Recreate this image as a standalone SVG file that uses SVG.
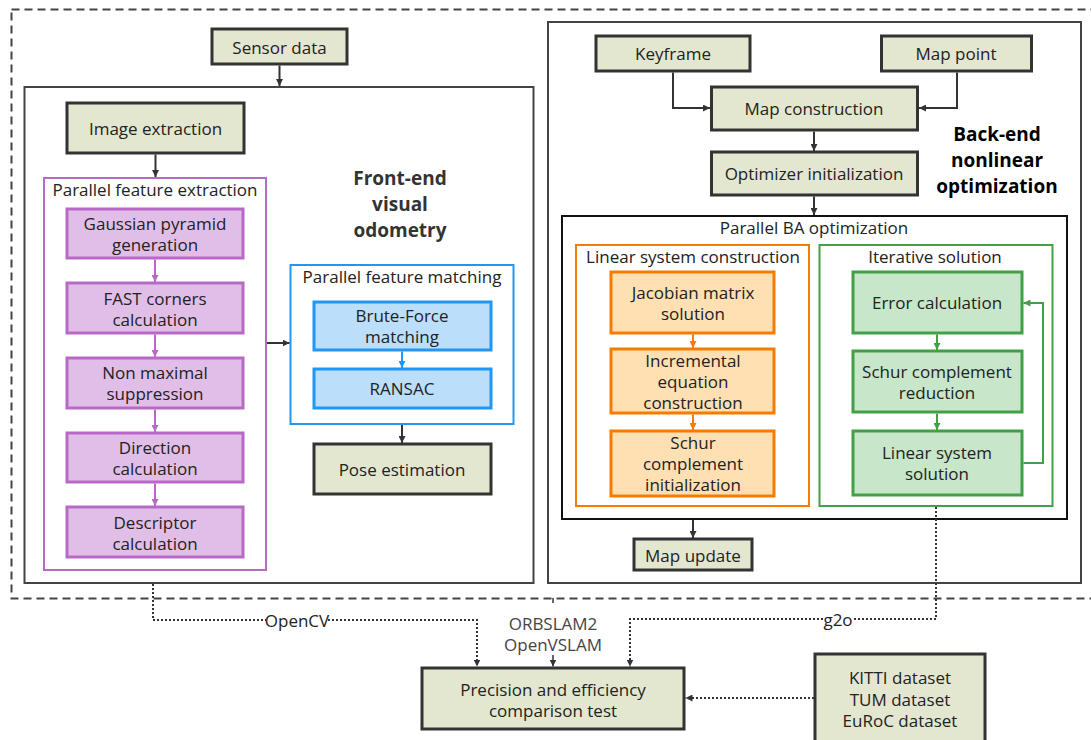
<svg xmlns="http://www.w3.org/2000/svg" width="1091" height="740" viewBox="0 0 1091 740">
<defs>
<style>
text{font-family:"Open Sans","Noto Sans","DejaVu Sans",sans-serif;font-size:17px;fill:#222;text-anchor:middle;dominant-baseline:central}
.bold{font-weight:bold;font-size:19px}
.olive{fill:#e3e7d0;stroke:#333;stroke-width:3}
.purple{fill:#e1bee7;stroke:#ba68c8;stroke-width:3}
.blue{fill:#bbdefb;stroke:#2196f3;stroke-width:3}
.orange{fill:#ffe0b2;stroke:#f57c00;stroke-width:3}
.green{fill:#c8e6c9;stroke:#43a047;stroke-width:3}
.cont{fill:none;stroke-width:2}
.ln{fill:none;stroke:#333;stroke-width:2}
.dot{fill:none;stroke:#333;stroke-width:2;stroke-dasharray:2 2}
</style>
<marker id="ak" viewBox="0 0 10 10" refX="10" refY="5" markerWidth="7" markerHeight="7" orient="auto" markerUnits="userSpaceOnUse"><path d="M0,0L10,5L0,10z" fill="#333"/></marker>
<marker id="ap" viewBox="0 0 10 10" refX="10" refY="5" markerWidth="7" markerHeight="7" orient="auto" markerUnits="userSpaceOnUse"><path d="M0,0L10,5L0,10z" fill="#ba68c8"/></marker>
<marker id="ab" viewBox="0 0 10 10" refX="10" refY="5" markerWidth="7" markerHeight="7" orient="auto" markerUnits="userSpaceOnUse"><path d="M0,0L10,5L0,10z" fill="#2196f3"/></marker>
<marker id="ao" viewBox="0 0 10 10" refX="10" refY="5" markerWidth="7" markerHeight="7" orient="auto" markerUnits="userSpaceOnUse"><path d="M0,0L10,5L0,10z" fill="#f57c00"/></marker>
<marker id="ag" viewBox="0 0 10 10" refX="10" refY="5" markerWidth="7" markerHeight="7" orient="auto" markerUnits="userSpaceOnUse"><path d="M0,0L10,5L0,10z" fill="#43a047"/></marker>
</defs>
<rect width="1091" height="740" fill="#fff"/>

<rect x="11.5" y="9.5" width="1100" height="589" fill="none" stroke="#444" stroke-width="2" stroke-dasharray="8 5"/>

<g id="frontend">
<rect x="24.5" y="87" width="509" height="496" class="cont" stroke="#444"/>
<text class="bold" x="400" y="178" style="fill:#333">Front-end</text>
<text class="bold" x="400" y="204" style="fill:#333">visual</text>
<text class="bold" x="400" y="230" style="fill:#333">odometry</text>
</g>
<g id="backend">
<rect x="548" y="22" width="533" height="561" class="cont" stroke="#444"/>
<text class="bold" x="997" y="134" style="fill:#000">Back-end</text>
<text class="bold" x="997" y="160" style="fill:#000">nonlinear</text>
<text class="bold" x="997" y="186" style="fill:#000">optimization</text>
</g>

<g id="sensor-data"><rect x="212" y="29" width="135" height="35" class="olive"/><text x="279.5" y="47">Sensor data</text></g>
<g id="image-extraction"><rect x="67" y="103" width="177" height="50" class="olive"/><text x="155.5" y="128">Image extraction</text></g>

<g id="parallel-feature-extraction"><rect x="44" y="178" width="222" height="392" class="cont" stroke="#ba68c8"/><text x="155" y="189">Parallel feature extraction</text></g>
<g id="gaussian"><rect x="67" y="209" width="176" height="49" class="purple"/><text x="155" y="223">Gaussian pyramid</text><text x="155" y="244">generation</text></g>
<g id="fast"><rect x="67" y="283" width="176" height="50" class="purple"/><text x="155" y="298">FAST corners</text><text x="155" y="319">calculation</text></g>
<g id="nms"><rect x="67" y="358" width="176" height="50" class="purple"/><text x="155" y="372">Non maximal</text><text x="155" y="393">suppression</text></g>
<g id="direction"><rect x="67" y="433" width="176" height="49" class="purple"/><text x="155" y="447">Direction</text><text x="155" y="468">calculation</text></g>
<g id="descriptor"><rect x="67" y="507" width="176" height="50" class="purple"/><text x="155" y="522">Descriptor</text><text x="155" y="543">calculation</text></g>

<g id="parallel-feature-matching"><rect x="290.5" y="265" width="223" height="159" class="cont" stroke="#2196f3"/><text x="402" y="276">Parallel feature matching</text></g>
<g id="brute-force"><rect x="314" y="302" width="177" height="48" class="blue"/><text x="402" y="315">Brute-Force</text><text x="402" y="336">matching</text></g>
<g id="ransac"><rect x="314" y="369" width="177" height="39" class="blue"/><text x="402" y="388">RANSAC</text></g>
<g id="pose-estimation"><rect x="314" y="444" width="177" height="50" class="olive"/><text x="402" y="469">Pose estimation</text></g>

<g id="keyframe"><rect x="596" y="36" width="154" height="35" class="olive"/><text x="673" y="53">Keyframe</text></g>
<g id="map-point"><rect x="881.5" y="36" width="150" height="35" class="olive"/><text x="956" y="53">Map point</text></g>
<g id="map-construction"><rect x="711.5" y="87" width="206" height="43" class="olive"/><text x="814" y="108">Map construction</text></g>
<g id="optimizer-initialization"><rect x="711.5" y="152" width="206" height="43" class="olive"/><text x="814" y="173">Optimizer initialization</text></g>

<g id="parallel-ba"><rect x="562" y="216" width="505" height="303" class="cont" stroke="#111"/><text x="814" y="227">Parallel BA optimization</text></g>
<g id="linear-system-construction"><rect x="576" y="245" width="233" height="261" class="cont" stroke="#f57c00"/><text x="693" y="256">Linear system construction</text></g>
<g id="jacobian"><rect x="611" y="272" width="163" height="61" class="orange"/><text x="693" y="292">Jacobian matrix</text><text x="693" y="313">solution</text></g>
<g id="incremental"><rect x="611" y="349" width="163" height="64" class="orange"/><text x="693" y="360">Incremental</text><text x="693" y="381">equation</text><text x="693" y="402">construction</text></g>
<g id="schur-init"><rect x="611" y="431" width="163" height="65" class="orange"/><text x="693" y="442">Schur</text><text x="693" y="463">complement</text><text x="693" y="484">initialization</text></g>

<g id="iterative-solution"><rect x="819.5" y="245" width="233" height="261" class="cont" stroke="#43a047"/><text x="935" y="256">Iterative solution</text></g>
<g id="error-calculation"><rect x="853" y="272" width="169" height="61" class="green"/><text x="937" y="302">Error calculation</text></g>
<g id="schur-reduction"><rect x="853" y="351" width="169" height="61" class="green"/><text x="937" y="371">Schur complement</text><text x="937" y="392">reduction</text></g>
<g id="linear-solution"><rect x="853" y="431" width="169" height="64" class="green"/><text x="937" y="452">Linear system</text><text x="937" y="473">solution</text></g>

<g id="map-update"><rect x="634" y="539" width="118" height="31" class="olive"/><text x="693" y="555">Map update</text></g>

<g id="precision-test"><rect x="422" y="668" width="262" height="61" class="olive"/><text x="553" y="689">Precision and efficiency</text><text x="553" y="710">comparison test</text></g>
<g id="datasets"><rect x="815" y="654" width="170" height="100" class="olive"/><text x="900" y="677">KITTI dataset</text><text x="900" y="699">TUM dataset</text><text x="900" y="720">EuRoC dataset</text></g>

<g id="connectors">
<path d="M279.5 65.5V86" class="ln" marker-end="url(#ak)"/>
<path d="M155.5 154.5V177" class="ln" marker-end="url(#ak)"/>
<path d="M155 259.5V282" stroke="#ba68c8" stroke-width="2" fill="none" marker-end="url(#ap)"/>
<path d="M155 334.5V357" stroke="#ba68c8" stroke-width="2" fill="none" marker-end="url(#ap)"/>
<path d="M155 409.5V432" stroke="#ba68c8" stroke-width="2" fill="none" marker-end="url(#ap)"/>
<path d="M155 483.5V506" stroke="#ba68c8" stroke-width="2" fill="none" marker-end="url(#ap)"/>
<path d="M267 343H289.5" class="ln" marker-end="url(#ak)"/>
<path d="M402 351.5V368" stroke="#2196f3" stroke-width="2" fill="none" marker-end="url(#ab)"/>
<path d="M402 425V443" class="ln" marker-end="url(#ak)"/>
<path d="M673 72.5V108H710" class="ln" marker-end="url(#ak)"/>
<path d="M957 72.5V108H919" class="ln" marker-end="url(#ak)"/>
<path d="M814 131.5V151" class="ln" marker-end="url(#ak)"/>
<path d="M814 196.5V215" class="ln" marker-end="url(#ak)"/>
<path d="M693 334.5V348" stroke="#f57c00" stroke-width="2" fill="none" marker-end="url(#ao)"/>
<path d="M693 414.5V430" stroke="#f57c00" stroke-width="2" fill="none" marker-end="url(#ao)"/>
<path d="M937 334.5V350" stroke="#43a047" stroke-width="2" fill="none" marker-end="url(#ag)"/>
<path d="M937 413.5V430" stroke="#43a047" stroke-width="2" fill="none" marker-end="url(#ag)"/>
<path d="M1023.5 463H1043V303H1023.5" stroke="#43a047" stroke-width="2" fill="none" marker-end="url(#ag)"/>
<path d="M693 520V538" class="ln" marker-end="url(#ak)"/>
<path d="M153 584V620H266M328 620H477V666.5" class="dot" marker-end="url(#ak)"/>
<text x="297" y="620">OpenCV</text>
<path d="M553 598V603" class="ln" style="stroke-width:1.5"/>
<text x="553" y="623" style="fill:#444">ORBSLAM2</text>
<text x="553" y="644" style="fill:#444">OpenVSLAM</text>
<path d="M553 655V666.5" class="ln" style="stroke-width:1.5" marker-end="url(#ak)"/>
<path d="M936 507V619H853M823 619H630V666.5" class="dot" marker-end="url(#ak)"/>
<text x="838" y="619">g2o</text>
<path d="M814 698H685.5" class="dot" marker-end="url(#ak)"/>
</g>
</svg>
